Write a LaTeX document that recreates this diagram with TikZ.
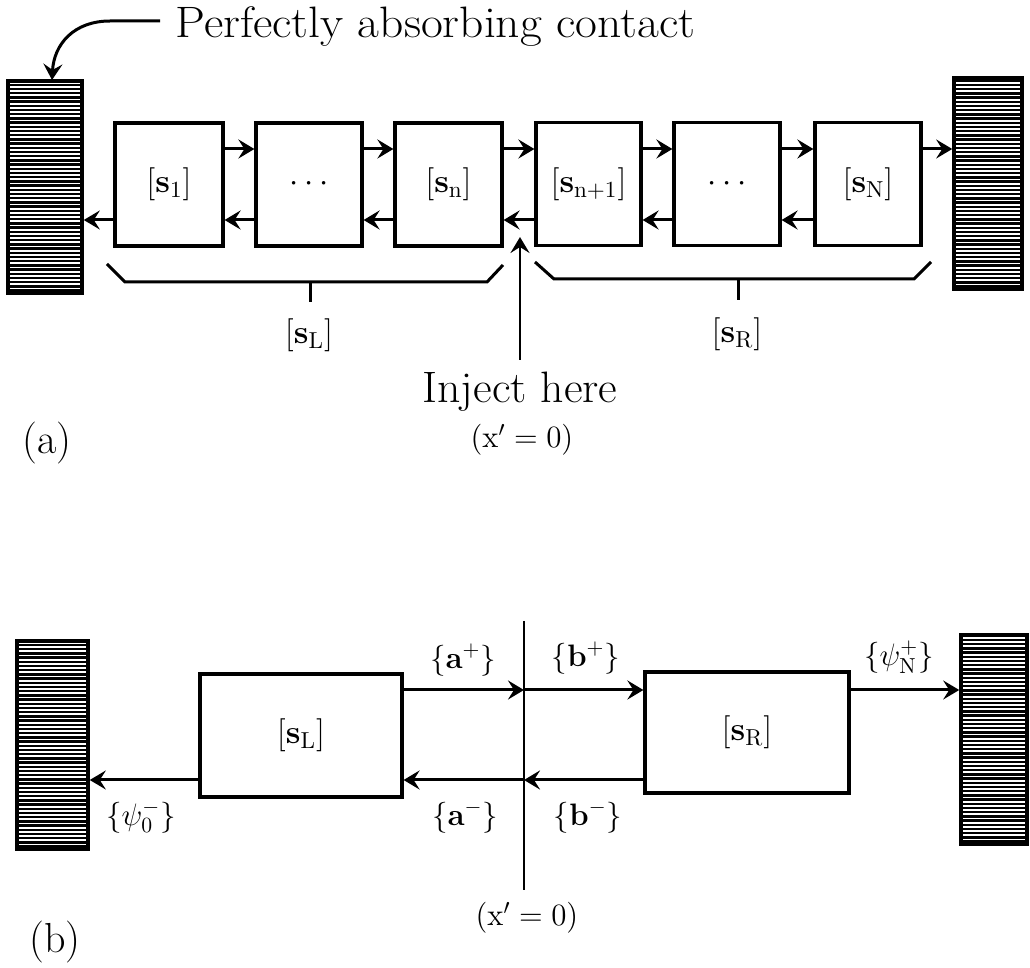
\RequirePackage{fix-cm}
\documentclass[tikz,border=0pt]{standalone}
\usetikzlibrary{arrows.meta,calc}
\tikzset{
  blk/.style={draw, line width=1.6pt, inner sep=0pt, minimum height=61.5pt,
    font=\fontsize{16.5}{20}\selectfont},
  arr/.style={line width=1.5pt, -{Stealth[length=8pt,width=9.5pt,inset=3pt]}},
  vline/.style={line width=1.3pt},
  bracepath/.style={line width=1.5pt},
  lab/.style={inner sep=0pt, font=\fontsize{16.5}{20}\selectfont},
  curly/.style={inner sep=0pt, font=\fontsize{15.5}{18}\selectfont},
  bigtxt/.style={inner sep=0pt, font=\fontsize{22}{26}\selectfont},
  smalltxt/.style={inner sep=0pt, font=\fontsize{15.5}{18}\selectfont},
  tag/.style={inner sep=0pt, font=\fontsize{21}{25}\selectfont},
  contact/.style={draw, line width=1.8pt, inner sep=0pt,
    path picture={
      \foreach \k in {0,...,60}{
        \draw[line width=1.2pt]
          ([yshift=\k*2.1pt+1.2pt]path picture bounding box.south west) --
          ([yshift=\k*2.1pt+1.2pt]path picture bounding box.south east);
      }
    }},
}
\begin{document}
\begin{tikzpicture}[x=0.5pt,y=-0.5pt]
\useasboundingbox (0,0) rectangle (1030,968);

% ---------- (a) ----------
\node[contact, minimum width=37pt, minimum height=106pt] (cL) at (45,187) {};
\node[contact, minimum width=34pt, minimum height=105.5pt] (cR) at (988,183.5) {};

\node[blk, minimum width=54pt] (s1) at (169,184.5) {$[\mathbf{s}_{\mathrm{1}}]$};
\node[blk, minimum width=53pt] (d1) at (309,184.5) {$\cdots$};
\node[blk, minimum width=53.5pt] (sn) at (448.5,184.5) {$[\mathbf{s}_{\mathrm{n}}]$};
\node[blk, minimum width=52.5pt] (sn1) at (588.5,184) {$[\mathbf{s}_{\mathrm{n+1}}]$};
\node[blk, minimum width=53pt] (d2) at (727,184) {$\cdots$};
\node[blk, minimum width=53pt] (sN) at (868,184) {$[\mathbf{s}_{\mathrm{N}}]$};

\coordinate (u) at (0,149);
\coordinate (l) at (0,220);

\draw[arr] (s1.east |- u) -- (d1.west |- u);
\draw[arr] (d1.east |- u) -- (sn.west |- u);
\draw[arr] (sn.east |- u) -- (sn1.west |- u);
\draw[arr] (sn1.east |- u) -- (d2.west |- u);
\draw[arr] (d2.east |- u) -- (sN.west |- u);
\draw[arr] (sN.east |- u) -- (cR.west |- u);

\draw[arr] (s1.west |- l) -- (cL.east |- l);
\draw[arr] (d1.west |- l) -- (s1.east |- l);
\draw[arr] (sn.west |- l) -- (d1.east |- l);
\draw[arr] (sn1.west |- l) -- (sn.east |- l);
\draw[arr] (d2.west |- l) -- (sn1.east |- l);
\draw[arr] (sN.west |- l) -- (d2.east |- l);

% braces
\draw[bracepath] (107,264) -- (125,282) -- (487,282) -- (503,265);
\draw[bracepath] (310,282) -- (310,302);
\draw[bracepath] (535,262) -- (554,279) -- (914,279) -- (931,262);
\draw[bracepath] (738,279) -- (738,300);
\node[lab] (sLa) at (309,335) {$[\mathbf{s}_{\mathrm{L}}]$};
\node[lab] (sRa) at (737,334) {$[\mathbf{s}_{\mathrm{R}}]$};

% title and curved arrow
\node[bigtxt, anchor=base west, xscale=1.08] (title) at (175,38) {Perfectly absorbing contact};
\coordinate (cstart) at (160,21);
\coordinate (ctip) at (52,80);
\draw[arr] (cstart) -- (110,21) .. controls (74,21) and (54,44) .. (ctip);

% injection
\node[bigtxt, anchor=base, xscale=1.04] (inj) at (520,403) {Inject here};
\node[smalltxt] (x0a) at (522,440) {$(\mathrm{x}' = 0)$};
\coordinate (injb) at (520,360);
\coordinate (injt) at (520,237);
\draw[arr, line width=1.3pt] (injb) -- (injt);

\node[tag] (ta) at (47,443) {(a)};

% ---------- (b) ----------
\node[contact, minimum width=35.5pt, minimum height=104pt] (cL2) at (52.5,745) {};
\node[contact, minimum width=33pt, minimum height=104.5pt] (cR2) at (994,739.5) {};

\node[blk, minimum width=101pt] (sL) at (301,735.5) {$[\mathbf{s}_{\mathrm{L}}]$};
\node[blk, minimum width=102pt, minimum height=60.5pt] (sR) at (747,732.5) {$[\mathbf{s}_{\mathrm{R}}]$};

\coordinate (vt) at (524,621);
\coordinate (vb) at (524,890);
\draw[vline] (vt) -- (vb);

\coordinate (u2) at (0,690);
\coordinate (l2) at (0,780);

\draw[arr] (sL.east |- u2) -- (vt |- u2);
\draw[arr] (vt |- u2) -- (sR.west |- u2);
\draw[arr] (sR.east |- u2) -- (cR2.west |- u2);
\draw[arr] (sR.west |- l2) -- (vt |- l2);
\draw[arr] (vt |- l2) -- (sL.east |- l2);
\draw[arr] (sL.west |- l2) -- (cL2.east |- l2);

\node[curly] (ap) at (463,660) {$\{\mathbf{a}^{+}\}$};
\node[curly] (am) at (465,817) {$\{\mathbf{a}^{-}\}$};
\node[curly] (bp) at (586,658) {$\{\mathbf{b}^{+}\}$};
\node[curly] (bm) at (588,817) {$\{\mathbf{b}^{-}\}$};
\node[curly] (p0) at (141,817) {$\{\psi_0^{-}\}$};
\node[curly] (pN) at (899,657) {$\{\psi_{\mathrm{N}}^{+}\}$};

\node[smalltxt] (x0b) at (527,918) {$(\mathrm{x}' = 0)$};
\node[tag] (tb) at (55,942) {(b)};
\end{tikzpicture}
\end{document}
